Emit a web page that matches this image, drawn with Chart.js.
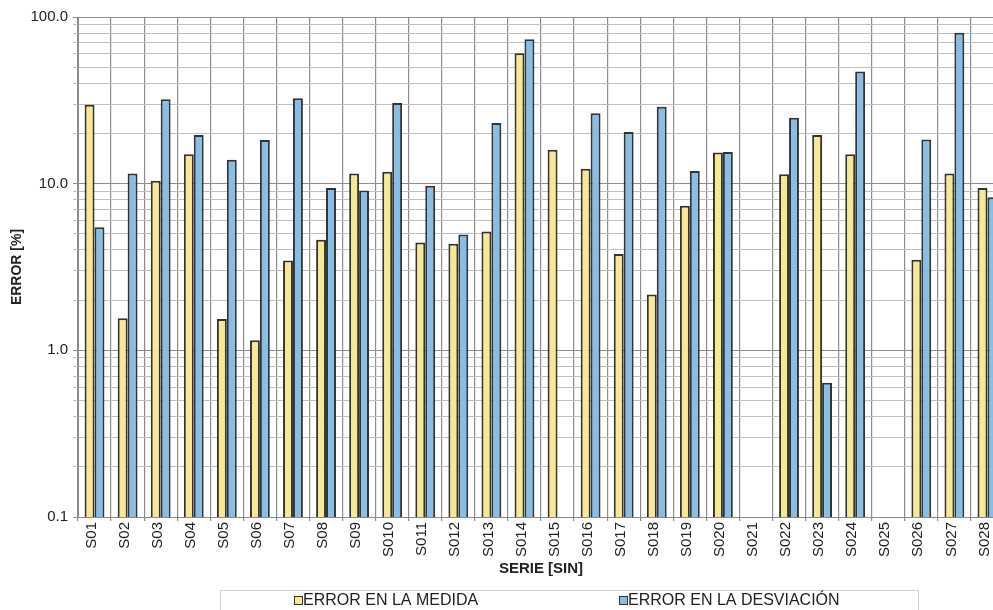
<!DOCTYPE html>
<html>
<head>
<meta charset="utf-8">
<title>ERROR [%] por serie</title>
<script src="https://cdn.jsdelivr.net/npm/chart.js@4/dist/chart.umd.min.js"></script>
<style>
  html, body { margin: 0; padding: 0; background: #ffffff; overflow: hidden; }
  #wrap { position: relative; width: 1010px; height: 610px; }
</style>
</head>
<body>
<div id="wrap"><canvas id="chart" width="1010" height="610"></canvas></div>
<script>
// Series labels along the x axis
const categories = [
  'S01','S02','S03','S04','S05','S06','S07','S08','S09','S010',
  'S011','S012','S013','S014','S015','S016','S017','S018','S019','S020',
  'S021','S022','S023','S024','S025','S026','S027','S028'
];

// Error in the measurement [%]
const errorMedida = [
  29.7, 1.56, 10.4, 15.0, 1.54, 1.15, 3.46, 4.6, 11.5, 11.8,
  4.44, 4.36, 5.16, 60.6, 16.0, 12.3, 3.79, 2.16, 7.38, 15.4,
  null, 11.4, 19.6, 15.0, null, 3.5, 11.5, 9.43
];

// Error in the deviation [%]
const errorDesviacion = [
  5.47, 11.5, 32.1, 19.6, 13.9, 18.3, 32.6, 9.43, 9.09, 30.5,
  9.73, 4.95, 23.1, 73.5, null, 26.5, 20.4, 28.9, 11.9, 15.5,
  null, 24.9, 0.64, 47.1, null, 18.4, 80.5, 8.28
];

// Labelled decades of the logarithmic axis
const decadeValues = [0.1, 1, 10, 100];
const decadeLabels = ['0.1', '1.0', '10.0', '100.0'];

const seriesNames = ['ERROR EN LA MEDIDA', 'ERROR EN LA DESVIACIÓN'];
const seriesColors = ['#f8e891', '#86bee6'];

const NARROW = "'Liberation Sans Narrow', 'Arial Narrow', 'Liberation Sans', Arial, sans-serif";
const REGULAR = "'Liberation Sans', Arial, sans-serif";

function isDecade(v) {
  return decadeValues.some(d => Math.abs(d - v) < 1e-9);
}

// Legend framed in a box below the axis title
const legendX = [294, 619];
const boxedLegend = {
  id: 'boxedLegend',
  afterDraw(chart) {
    const ctx = chart.ctx;
    ctx.save();
    ctx.strokeStyle = '#cfcfcf';
    ctx.lineWidth = 1;
    ctx.strokeRect(220.5, 590.5, 698, 40);
    chart.data.datasets.forEach((ds, i) => {
      const x = legendX[i];
      ctx.fillStyle = ds.backgroundColor;
      ctx.fillRect(x, 596, 8, 8);
      ctx.strokeStyle = '#333333';
      ctx.strokeRect(x + 0.5, 596.5, 8, 8);
      ctx.fillStyle = '#222222';
      ctx.font = '16px ' + REGULAR;
      ctx.textBaseline = 'middle';
      ctx.textAlign = 'left';
      ctx.fillText(ds.label, x + 9, 601);
    });
    ctx.restore();
  }
};

new Chart(document.getElementById('chart'), {
  type: 'bar',
  data: {
    labels: categories,
    datasets: [
      {
        label: seriesNames[0],
        data: errorMedida,
        backgroundColor: seriesColors[0],
        borderColor: '#333333',
        borderWidth: 2,
        categoryPercentage: 0.6,
        barPercentage: 1.0
      },
      {
        label: seriesNames[1],
        data: errorDesviacion,
        backgroundColor: seriesColors[1],
        borderColor: '#333333',
        borderWidth: 2,
        categoryPercentage: 0.6,
        barPercentage: 1.0
      }
    ]
  },
  options: {
    responsive: false,
    animation: false,
    layout: { padding: { top: 17, left: 0, right: 6, bottom: 32 } },
    plugins: {
      legend: { display: false },
      tooltip: { enabled: false }
    },
    scales: {
      x: {
        type: 'category',
        offset: true,
        grid: {
          offset: true,
          color: '#8c8c8c',
          lineWidth: 1.2,
          tickLength: 4,
          drawTicks: true
        },
        border: { color: '#8a8a8a', width: 1 },
        ticks: {
          autoSkip: false,
          maxRotation: 90,
          minRotation: 90,
          padding: 1,
          labelOffset: -3,
          color: '#222222',
          font: { family: NARROW, size: 15 }
        },
        title: {
          display: true,
          text: 'SERIE [SIN]',
          color: '#222222',
          font: { family: REGULAR, size: 15, weight: 'bold' },
          padding: { top: 0, bottom: 0 }
        },
        afterFit(scale) { scale.height = 61; }
      },
      y: {
        type: 'logarithmic',
        min: 0.1,
        max: 100,
        afterBuildTicks(scale) {
          const ticks = [];
          for (let d = 0; d < decadeValues.length - 1; d++) {
            for (let m = 1; m <= 9; m++) {
              ticks.push({ value: Number((m * decadeValues[d]).toPrecision(3)) });
            }
          }
          ticks.push({ value: decadeValues[decadeValues.length - 1] });
          scale.ticks = ticks;
        },
        grid: {
          color: ctx => (ctx.tick && isDecade(ctx.tick.value)) ? '#8e8e8e' : '#c0c0c0',
          lineWidth: 1,
          tickLength: 5
        },
        border: { color: '#8a8a8a', width: 1 },
        ticks: {
          autoSkip: false,
          padding: 5,
          color: '#222222',
          font: { family: NARROW, size: 15 },
          callback(value) {
            const i = decadeValues.findIndex(d => Math.abs(d - value) < 1e-9);
            return i >= 0 ? decadeLabels[i] : '';
          }
        },
        title: {
          display: true,
          text: 'ERROR [%]',
          color: '#222222',
          font: { family: REGULAR, size: 14, weight: 'bold' },
          padding: { top: 9, bottom: 0 }
        },
        afterFit(scale) { scale.width = 78; }
      }
    }
  },
  plugins: [boxedLegend]
});
</script>
</body>
</html>
